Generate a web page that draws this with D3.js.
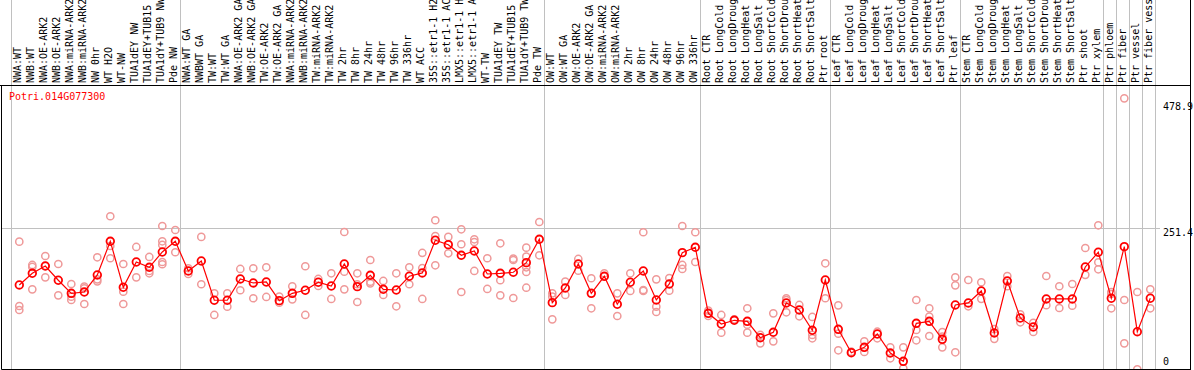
<html>
<head>
<script src="https://d3js.org/d3.v7.min.js"></script>
<style>
  body { margin: 0; background: #fff; }
  text { font-family: "DejaVu Sans Mono", monospace; font-size: 10px; }
</style>
</head>
<body>
<script>
// sample names, one per column
var samples = [
  'NWA:WT','NWB:WT','NWA:OE-ARK2','NWB:OE-ARK2','NWA:miRNA-ARK2','NWB:miRNA-ARK2','NW 0hr','WT H2O','WT-NW',
  'TUA1dEY NW','TUA1dEY+TUB15 NW','TUA1dY+TUB9 NW','Pde NW',
  'NWA:WT GA','NWBWT GA','TW:WT','TW:WT GA','NWA:OE-ARK2 GA','NWB:OE-ARK2 GA','TW:OE-ARK2','TW:OE-ARK2 GA',
  'NWA:miRNA-ARK2','NWB:miRNA-ARK2','TW:miRNA-ARK2','TW:miRNA-ARK2 GA','TW 2hr','TW 8hr','TW 24hr','TW 48hr',
  'TW 96hr','TW 336hr','WT ACC','35S::etr1-1 H2O','35S::etr1-1 ACC','LMX5::etr1-1 H2O','LMX5::etr1-1 ACC',
  'WT-TW','TUA1dEY TW','TUA1dEY+TUB15 TW','TUA1dY+TUB9 TW','Pde TW',
  'OW:WT','OW:WT GA','OW:OE-ARK2','OW:OE-ARK2 GA','OW:miRNA-ARK2','OW:miRNA-ARK2 GA','OW 2hr','OW 8hr',
  'OW 24hr','OW 48hr','OW 96hr','OW 336hr',
  'Root CTR','Root LongCold','Root LongDrought','Root LongHeat','Root LongSalt','Root ShortCold',
  'Root ShortDrought','Root ShortHeat','Root ShortSalt','Ptr root',
  'Leaf CTR','Leaf LongCold','Leaf LongDrought','Leaf LongHeat','Leaf LongSalt','Leaf ShortCold',
  'Leaf ShortDrought','Leaf ShortHeat','Leaf ShortSalt','Ptr leaf',
  'Stem CTR','Stem LongCold','Stem LongDrought','Stem LongHeat','Stem LongSalt','Stem ShortCold',
  'Stem ShortDrought','Stem ShortHeat','Stem ShortSalt','Ptr shoot','Ptr xylem',
  'Ptr phloem','Ptr fiber','Ptr vessel','Ptr fiber vessel'
];

// column index where a separator line is drawn
var separators = [0, 13, 41, 53, 63, 73, 84, 85, 86, 87, 88];

var gene = 'Potri.014G077300';
var yTicks = [0, 251.4, 478.9];

// mean expression per sample
var means = [
  152.3, 172.7, 185.5, 160.5, 137.7, 140.0, 169.8, 228.7, 148.2, 192.5, 183.2, 210.0, 228.7,
  176.8, 194.3, 125.5, 125.5, 162.8, 155.8, 157.5, 124.8, 137.7, 143.0, 157.0, 150.5, 189.0, 149.3,
  169.2, 144.7, 143.5, 167.5, 173.3, 230.5, 222.8, 204.2, 211.8, 171.5, 172.7, 174.5, 191.3, 232.2,
  121.3, 147.0, 189.0, 137.7, 167.5, 118.5, 157.0, 176.8, 126.0, 154.0, 208.8, 218.2,
  102.7, 84.0, 90.5, 88.7, 60.0, 69.5, 120.8, 108.5, 73.0, 161.0,
  74.7, 33.8, 43.2, 66.5, 33.2, 18.7, 85.2, 88.7, 57.2, 117.3,
  120.8, 141.8, 68.3, 159.3, 94.5, 78.8, 127.8, 127.8, 127.8, 183.8, 209.5,
  129.0, 219.3, 70.5, 129.0
];

// replicate values per sample
var replicates = [
  [228.0, 115.5, 108.5], [187.3, 183.8, 144.7], [203.0, 165.7, 185.5], [189.0, 134.2],
  [154.0, 131.8, 126.0], [149.3, 146.5, 119.0], [200.7, 162.2, 158.7], [272.5, 220.5, 199.0],
  [189.0, 140.5, 119.0], [218.8, 165.7], [201.3, 176.8, 172.7], [255.5, 228.7, 222.3, 192.5, 188.5],
  [248.5, 209.5],
  [181.5, 171.5], [236.3, 153.5], [137.7, 99.8], [137.7, 114.3], [180.3, 143.0], [181.5, 129.0],
  [183.2, 131.3], [131.8, 121.3], [150.0, 127.2], [185.0, 99.8], [162.8, 150.5], [172.7, 127.8],
  [245.0, 175.5, 144.7], [172.7, 153.5, 122.5], [196.0, 158.0, 155.2], [159.3, 134.8], [172.7, 115.0],
  [183.2, 153.5], [208.3, 182.0, 127.8], [265.5, 238.0, 186.7], [236.3, 207.7], [249.7, 223.5, 140.0],
  [232.2, 227.5, 176.8], [199.0, 145.3], [225.2, 160.5, 134.2], [198.3, 196.0, 129.5],
  [217.5, 201.8, 183.2, 175.0, 147.5], [262.5, 204.2],
  [137.7, 131.8, 92.2], [158.0, 134.8], [197.8, 177.3], [164.0, 111.5], [172.7, 166.8], [137.7, 98.0],
  [172.7, 141.8], [244.5, 143.5, 141.8], [162.2, 114.3, 105.0], [164.5, 142.3], [255.5, 187.3, 180.3],
  [244.5, 192.5],
  [107.3, 98.0], [99.8, 68.8], [92.2], [111.5, 82.8, 68.8], [64.8, 50.2], [102.7, 53.7],
  [129.0, 126.0, 104.5], [117.3, 97.5], [96.3, 64.8, 59.0], [190.2, 129.0],
  [116.7, 67.0, 38.0], [35.5], [53.7, 35.0], [70.5, 59.0], [43.2, 24.0], [43.2, 6.5],
  [126.0, 73.5, 55.5], [111.5, 96.8, 63.0], [70.0, 61.8, 43.2], [165.7, 151.7, 34.5],
  [161.0, 115.0], [157.0, 128.0], [75.0, 58.0], [168.0, 150.0], [101.0, 87.0], [86.0, 70.0],
  [168.0, 117.0], [150.0, 112.0], [154.0, 116.0], [217.0, 170.0], [256.7, 192.0, 179.7],
  [140.0, 136.5, 111.5], [478.9, 126.0, 50.2], [140.0, 4.7], [144.7, 111.5]
];

var W = 1194, H = 370;
var headerY = 85.5, bottomY = 369.5, rightX = 1190.5;

var svg = d3.select('body').append('svg').attr('width', W).attr('height', H);

var x = d3.scaleLinear().domain([0, samples.length]).range([10.7, 10.7 + 13 * samples.length]);
var y = d3.scaleLinear().domain([0, 478.9]).range([372, 98.3]);
var px = function (i) { return x(i) + 8.6; };

// column separators through header and plot
svg.selectAll('line.sep').data(separators).enter().append('line')
  .attr('x1', d => Math.round(x(d)) + 0.5).attr('x2', d => Math.round(x(d)) + 0.5)
  .attr('y1', 0).attr('y2', bottomY)
  .attr('stroke', '#c0c0c0').attr('stroke-width', 1);

// grid line for middle tick
svg.append('line')
  .attr('x1', 1.5).attr('x2', 1160)
  .attr('y1', Math.round(y(251.4)) + 0.5).attr('y2', Math.round(y(251.4)) + 0.5)
  .attr('stroke', '#c0c0c0');

// header labels
svg.selectAll('text.lab').data(samples).enter().append('text')
  .attr('transform', (d, i) => 'translate(' + (x(i) + 10) + ',83) rotate(-90)')
  .attr('fill', '#000')
  .text(d => d);

// frame
svg.append('line').attr('x1', 0).attr('x2', rightX).attr('y1', headerY).attr('y2', headerY).attr('stroke', '#000');
svg.append('line').attr('x1', 1.5).attr('x2', 1.5).attr('y1', headerY).attr('y2', bottomY).attr('stroke', '#000');
svg.append('line').attr('x1', 1.5).attr('x2', rightX).attr('y1', bottomY).attr('y2', bottomY).attr('stroke', '#000');
svg.append('line').attr('x1', rightX).attr('x2', rightX).attr('y1', 0).attr('y2', H).attr('stroke', '#000');

svg.append('text').attr('x', 9).attr('y', 100).attr('fill', '#ff0000').text(gene);

// value labels on the right
svg.selectAll('text.tick').data(yTicks).enter().append('text')
  .attr('x', 1163)
  .attr('y', d => Math.max(110, Math.min(365, y(d) + 8)))
  .attr('fill', '#000')
  .text(d => d);

svg.append('clipPath').attr('id', 'plot').append('rect')
  .attr('x', 2).attr('y', 86).attr('width', 1188).attr('height', 283);

var plot = svg.append('g').attr('clip-path', 'url(#plot)');

var reps = [];
replicates.forEach(function (r, i) { r.forEach(function (v) { reps.push({ i: i, v: v }); }); });

plot.selectAll('circle.rep').data(reps).enter().append('circle')
  .attr('cx', d => px(d.i)).attr('cy', d => y(d.v)).attr('r', 3.6)
  .attr('fill', 'none').attr('stroke', '#ef9999').attr('stroke-width', 1.5);

plot.append('path')
  .datum(means)
  .attr('d', d3.line().x((d, i) => px(i)).y(d => y(d)))
  .attr('fill', 'none').attr('stroke', '#ff0000').attr('stroke-width', 1.2);

plot.selectAll('circle.mean').data(means).enter().append('circle')
  .attr('cx', (d, i) => px(i)).attr('cy', d => y(d)).attr('r', 3.8)
  .attr('fill', 'none').attr('stroke', '#ff0000').attr('stroke-width', 1.8);
</script>
</body>
</html>
